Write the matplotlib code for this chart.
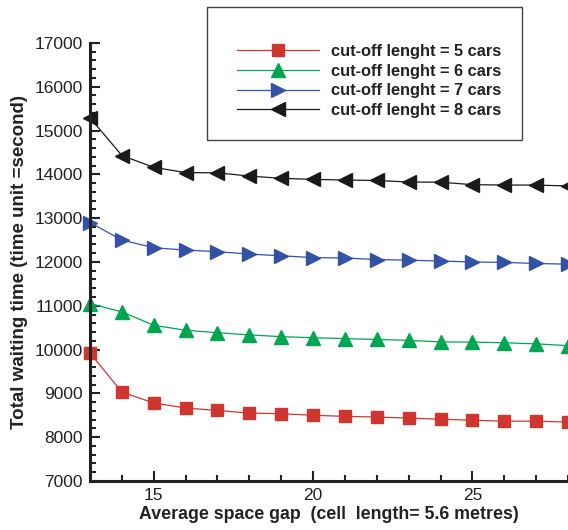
import matplotlib
matplotlib.use("Agg")
import matplotlib.pyplot as plt
from matplotlib.patches import Rectangle
from matplotlib.ticker import MultipleLocator

plt.rcParams['font.family'] = ['Liberation Sans', 'DejaVu Sans']

# average space gap (cells)
gap = [13, 14, 15, 16, 17, 18, 19, 20, 21, 22, 23, 24, 25, 26, 27, 28]

# total waiting time for each cut-off length
wait_5 = [9920, 9030, 8780, 8665, 8610, 8550, 8535, 8500, 8475, 8460, 8435, 8410, 8385, 8365, 8365, 8345]
wait_6 = [11050, 10860, 10555, 10440, 10385, 10335, 10295, 10270, 10250, 10230, 10210, 10175, 10170, 10155, 10130, 10090]
wait_7 = [12900, 12500, 12325, 12270, 12235, 12180, 12140, 12100, 12090, 12055, 12040, 12020, 12000, 11990, 11965, 11950]
wait_8 = [15290, 14430, 14160, 14040, 14035, 13960, 13910, 13885, 13870, 13860, 13825, 13820, 13765, 13755, 13755, 13735]

labels = ["cut-off lenght = 5 cars", "cut-off lenght = 6 cars",
          "cut-off lenght = 7 cars", "cut-off lenght = 8 cars"]

fig = plt.figure(figsize=(5.68, 5.3), dpi=100)
ax = fig.add_axes([0.1585, 0.0925, 0.8415, 0.8265])

ax.plot(gap, wait_5, color="#d03530", marker="s", markersize=8.5, lw=0.9, label=labels[0], clip_on=False)
ax.plot(gap, wait_6, color="#00a650", marker="^", markersize=9.5, lw=0.9, label=labels[1], clip_on=False)
ax.plot(gap, wait_7, color="#3352a5", marker=">", markersize=9.5, lw=0.9, label=labels[2], clip_on=False)
ax.plot(gap, wait_8, color="#1a1a1a", marker="<", markersize=9.5, lw=0.9, label=labels[3], clip_on=False)

ax.set_xlim(13, 28)
ax.set_ylim(7000, 17000)
ax.xaxis.set_major_locator(MultipleLocator(5))
ax.xaxis.set_minor_locator(MultipleLocator(1))
ax.yaxis.set_major_locator(MultipleLocator(1000))
ax.yaxis.set_minor_locator(MultipleLocator(200))
ax.tick_params(which="both", direction="in", width=1.5, labelsize=12.5, colors="#222222")
ax.tick_params(which="major", length=7)
ax.tick_params(which="minor", length=4)
ax.tick_params(axis="x", pad=5)
ax.tick_params(axis="y", pad=5)

for side in ["top", "right"]:
    ax.spines[side].set_visible(False)
for side in ["left", "bottom"]:
    ax.spines[side].set_linewidth(2.2)
    ax.spines[side].set_color("#222222")

ax.set_xlabel("Average space gap  (cell  length= 5.6 metres)", fontsize=12.8,
              fontweight="bold", color="#222222", labelpad=2)
ax.set_ylabel("Total waiting time (time unit =second)", fontsize=13.5,
              fontweight="bold", color="#222222", labelpad=5)

# legend frame drawn separately so the padding matches the original
fig.patches.append(Rectangle((207 / 568, 1 - 140 / 530), 315 / 568, 133 / 530,
                             transform=fig.transFigure, fill=False,
                             edgecolor="#444444", lw=1.0))
leg = ax.legend(loc="upper left", bbox_to_anchor=(229 / 568, 1 - 36 / 530),
                bbox_transform=fig.transFigure, frameon=False,
                handlelength=5.0, handletextpad=0.75, labelspacing=0.28,
                borderpad=0, prop={"weight": "bold", "size": 11.8})
for t in leg.get_texts():
    t.set_color("#222222")

fig.savefig("out.png", dpi=100)
